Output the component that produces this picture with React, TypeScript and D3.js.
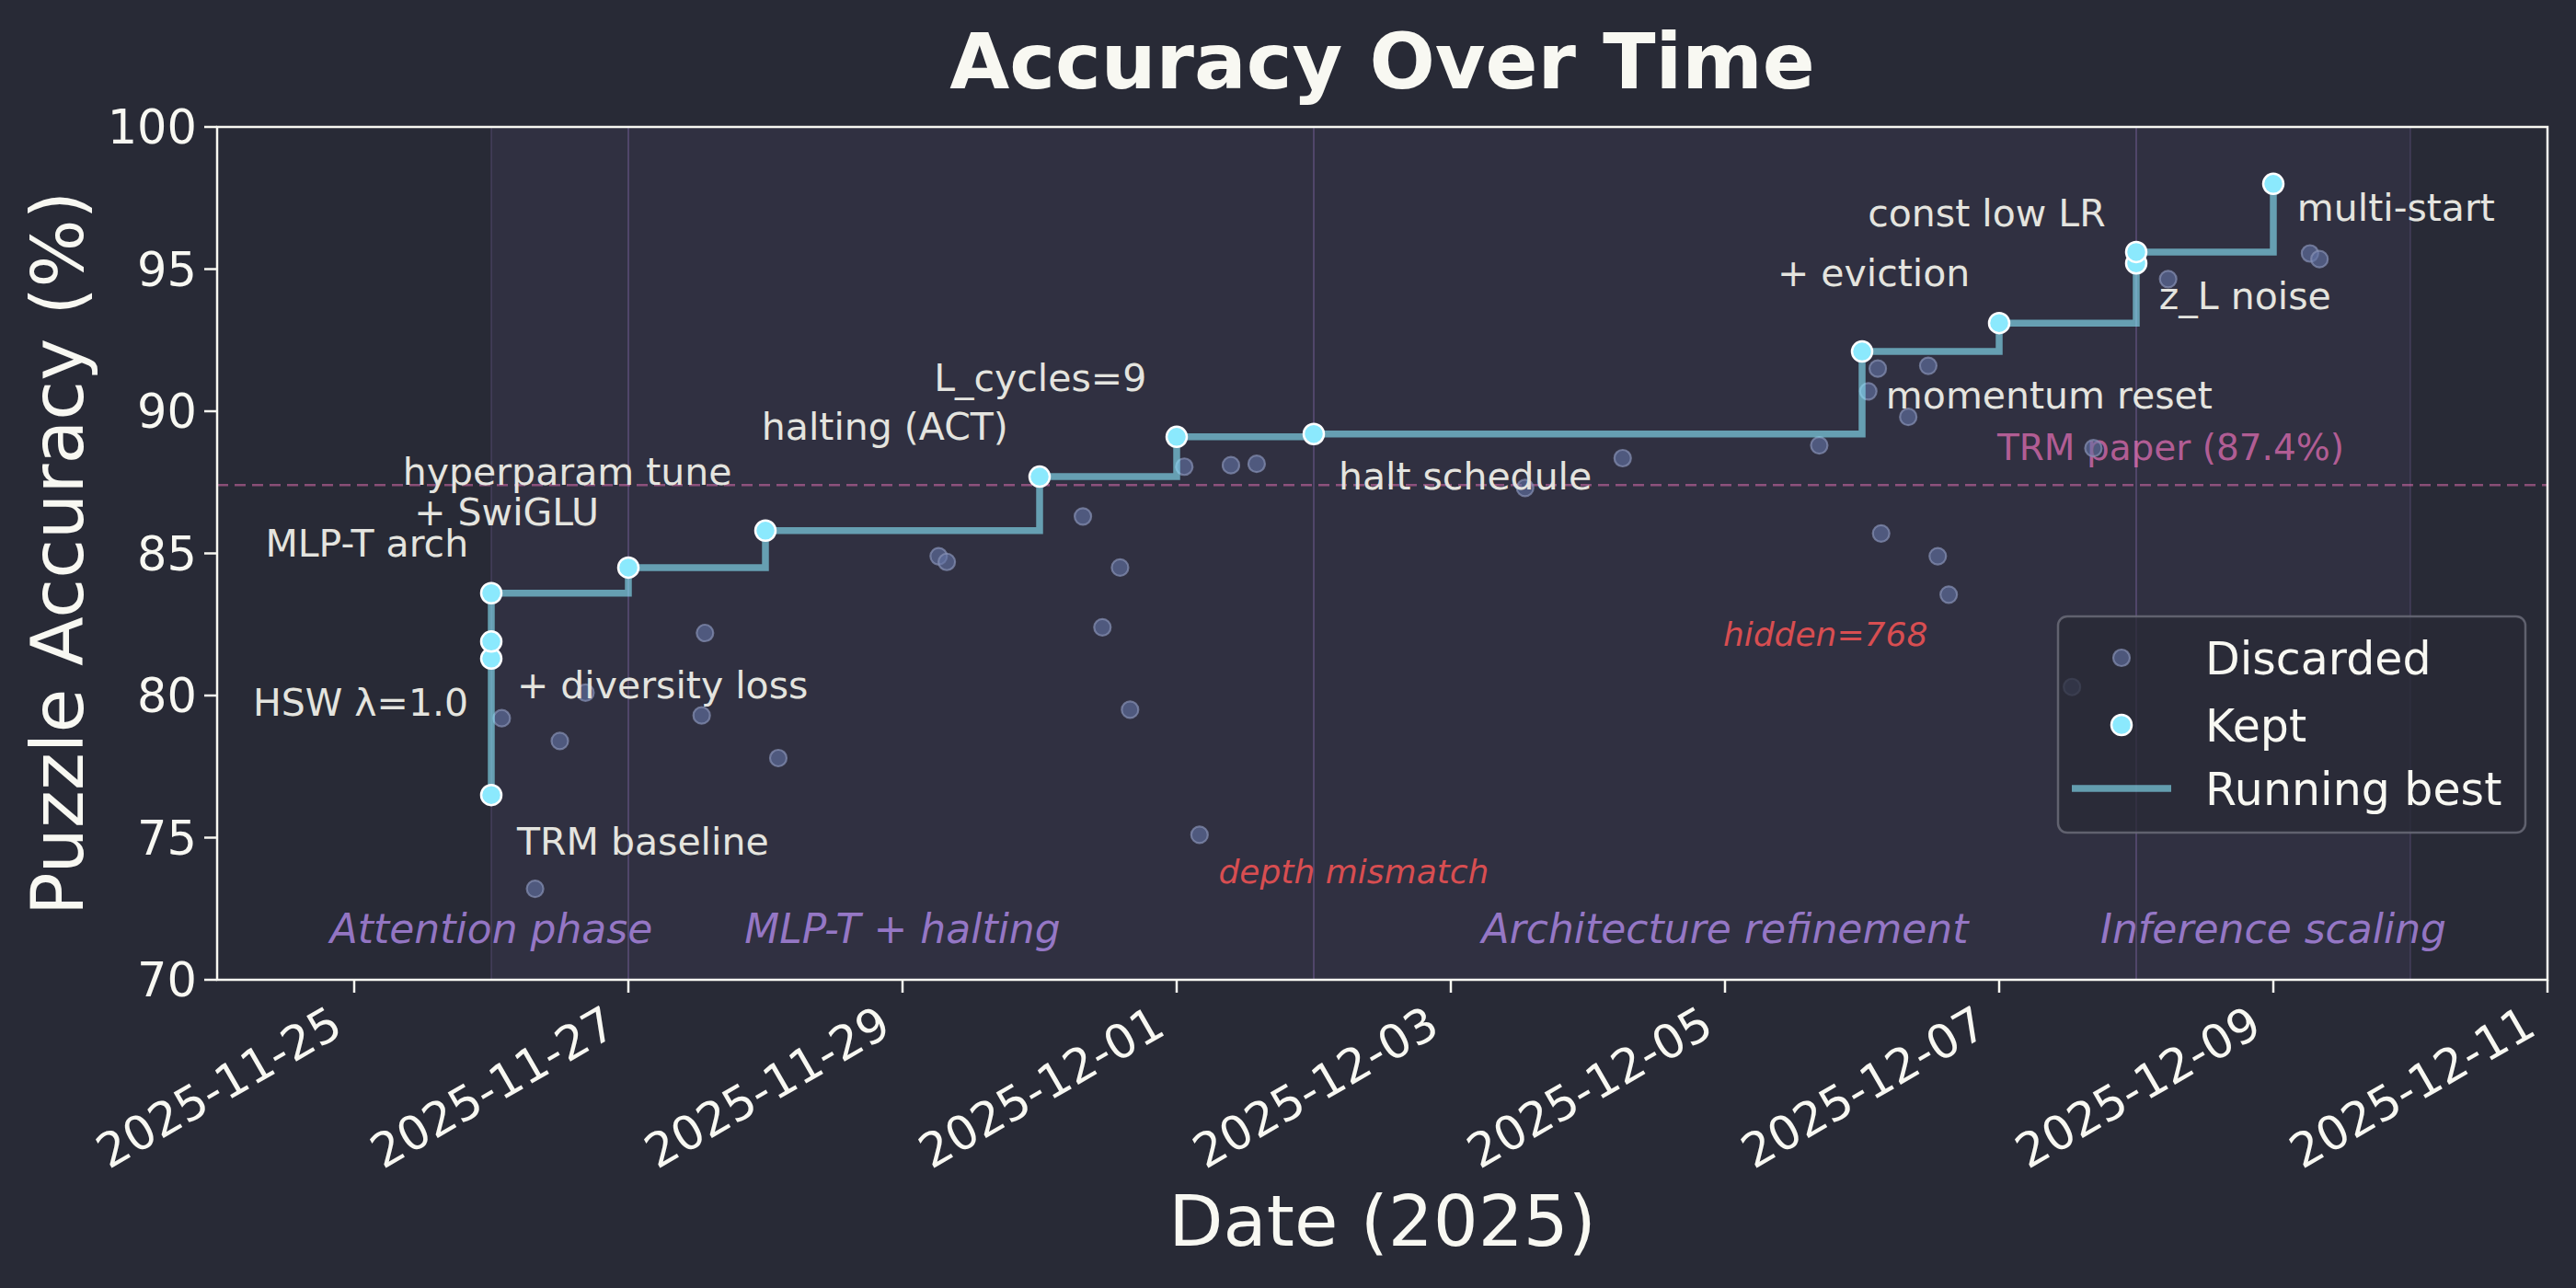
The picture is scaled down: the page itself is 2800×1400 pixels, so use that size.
import React, { useEffect, useRef } from 'react';
import * as d3 from 'd3';

// kept experiments (each one became the new best)
const keptDates = [
  '2025-11-26 00:00', '2025-11-26 00:00', '2025-11-26 00:00', '2025-11-26 00:00',
  '2025-11-27 00:00', '2025-11-28 00:00', '2025-11-30 00:00', '2025-12-01 00:00',
  '2025-12-02 00:00', '2025-12-06 00:00', '2025-12-07 00:00', '2025-12-08 00:00',
  '2025-12-08 00:00', '2025-12-09 00:00',
];
const keptAcc = [76.5, 81.3, 81.9, 83.6, 84.5, 85.8, 87.7, 89.1, 89.2, 92.1, 93.1, 95.2, 95.6, 98.0];

// discarded experiments
const discardedDates = [
  '2025-11-26 01:50', '2025-11-26 12:00', '2025-11-26 07:40', '2025-11-26 16:30',
  '2025-11-27 13:25', '2025-11-27 12:50', '2025-11-28 02:15', '2025-11-29 06:20',
  '2025-11-29 07:45', '2025-11-30 07:35', '2025-11-30 11:00', '2025-11-30 14:05',
  '2025-11-30 15:50', '2025-12-01 01:20', '2025-12-01 04:00', '2025-12-01 09:30',
  '2025-12-01 14:00', '2025-12-03 13:00', '2025-12-04 06:05', '2025-12-05 16:30',
  '2025-12-06 01:05', '2025-12-06 02:45', '2025-12-06 03:20', '2025-12-06 08:05',
  '2025-12-06 11:35', '2025-12-06 13:15', '2025-12-06 15:10', '2025-12-07 12:45',
  '2025-12-07 16:30', '2025-12-08 05:35', '2025-12-09 06:25', '2025-12-09 08:05',
];
const discardedAcc = [
  79.2, 78.4, 73.2, 80.1,
  82.2, 79.3, 77.8, 84.9,
  84.7, 86.3, 82.4, 84.5,
  79.5, 88.05, 75.1, 88.1,
  88.15, 87.3, 88.35, 88.8,
  90.7, 91.5, 85.7, 89.8,
  91.6, 84.9, 83.55, 80.3,
  88.7, 94.65, 95.55, 95.35,
];

// research phases
const phaseNames = ['Attention phase', 'MLP-T + halting', 'Architecture refinement', 'Inference scaling'];
const phaseStarts = ['2025-11-26 00:00', '2025-11-27 00:00', '2025-12-02 00:00', '2025-12-08 00:00'];
const phaseEnds = ['2025-11-27 00:00', '2025-12-02 00:00', '2025-12-08 00:00', '2025-12-10 00:00'];
const phaseLabelDates = ['2025-11-26 00:00', '2025-11-29 00:00', '2025-12-05 00:00', '2025-12-09 00:00'];
const phaseLabelY = 71.3;

// text labels next to the kept points (date, value = text baseline)
const noteTexts = [
  'TRM baseline', 'HSW λ=1.0', '+ diversity loss', 'MLP-T arch', 'hyperparam tune', '+ SwiGLU',
  'halting (ACT)', 'L_cycles=9', 'halt schedule', '+ eviction', 'momentum reset',
  'const low LR', 'z_L noise', 'multi-start',
];
const noteDates = [
  '2025-11-26 04:30', '2025-11-25 20:00', '2025-11-26 04:30', '2025-11-25 20:00', '2025-11-25 08:30', '2025-11-25 10:30',
  '2025-11-27 23:20', '2025-11-29 05:30', '2025-12-02 04:20', '2025-12-05 09:10', '2025-12-06 04:10',
  '2025-12-06 01:00', '2025-12-08 04:00', '2025-12-09 04:10',
];
const noteValues = [74.4, 79.3, 79.9, 84.9, 87.4, 86.0, 89.0, 90.7, 87.25, 94.4, 90.1, 96.5, 93.6, 96.7];
const noteAnchors = ['start', 'end', 'start', 'end', 'start', 'start', 'start', 'start', 'start', 'start', 'start', 'start', 'start', 'start'];

// failed runs called out in red
const failTexts = ['depth mismatch', 'hidden=768'];
const failDates = ['2025-12-01 07:20', '2025-12-04 23:40'];
const failValues = [73.4, 81.75];

const paperAcc = 87.4;
const paperLabel = 'TRM paper (87.4%)';
const paperLabelDate = '2025-12-06 23:40';
const paperLabelY = 88.3;

const xTickDates = ['2025-11-25', '2025-11-27', '2025-11-29', '2025-12-01', '2025-12-03', '2025-12-05', '2025-12-07', '2025-12-09', '2025-12-11'];
const yTicks = [70, 75, 80, 85, 90, 95, 100];

const legendLabels = ['Discarded', 'Kept', 'Running best'];

const W = 2800;
const H = 1400;
const FONT = '"DejaVu Sans", sans-serif';
const BG = '#282a36';
const FG = '#f8f8f2';

const App: React.FC = () => {
  const svgRef = useRef<SVGSVGElement | null>(null);

  useEffect(() => {
    document.body.style.margin = '0';
    if (!svgRef.current) return;

    const parse = d3.timeParse('%Y-%m-%d %H:%M');
    const parseDay = d3.timeParse('%Y-%m-%d');

    const svg = d3.select(svgRef.current);
    svg.selectAll('*').remove();

    const m = { left: 236, right: 31, top: 138, bottom: 335 };
    const x = d3.scaleTime()
      .domain([parseDay('2025-11-24')!, parseDay('2025-12-11')!])
      .range([m.left, W - m.right]);
    const y = d3.scaleLinear().domain([70, 100]).range([H - m.bottom, m.top]);

    svg.append('rect').attr('width', W).attr('height', H).attr('fill', BG);

    // phase spans
    phaseNames.forEach((name, i) => {
      const x0 = x(parse(phaseStarts[i])!);
      const x1 = x(parse(phaseEnds[i])!);
      svg.append('rect')
        .attr('x', x0).attr('y', m.top)
        .attr('width', x1 - x0).attr('height', y(70) - m.top)
        .attr('fill', '#bd93f9').attr('fill-opacity', 0.06);
      [x0, x1].forEach(xx => {
        svg.append('line')
          .attr('x1', xx).attr('x2', xx).attr('y1', m.top).attr('y2', y(70))
          .attr('stroke', '#bd93f9').attr('stroke-opacity', 0.12).attr('stroke-width', 2);
      });
      svg.append('text')
        .attr('x', x(parse(phaseLabelDates[i])!))
        .attr('y', y(phaseLabelY))
        .attr('text-anchor', 'middle')
        .attr('font-family', FONT).attr('font-style', 'italic').attr('font-size', 44)
        .attr('fill', '#bd93f9').attr('fill-opacity', 0.72)
        .text(name);
    });

    // paper reference line
    svg.append('line')
      .attr('x1', m.left).attr('x2', W - m.right)
      .attr('y1', y(paperAcc)).attr('y2', y(paperAcc))
      .attr('stroke', '#ff79c6').attr('stroke-opacity', 0.45)
      .attr('stroke-width', 2.5).attr('stroke-dasharray', '12,7');
    svg.append('text')
      .attr('x', x(parse(paperLabelDate)!)).attr('y', y(paperLabelY))
      .attr('font-family', FONT).attr('font-size', 39)
      .attr('fill', '#ff79c6').attr('fill-opacity', 0.65)
      .text(paperLabel);

    // discarded
    const discarded = discardedDates.map((d, i) => ({ date: parse(d)!, acc: discardedAcc[i] }));
    svg.append('g').selectAll('circle').data(discarded).enter().append('circle')
      .attr('cx', d => x(d.date)).attr('cy', d => y(d.acc)).attr('r', 9)
      .attr('fill', '#6272a4').attr('fill-opacity', 0.62)
      .attr('stroke', '#8791b5').attr('stroke-opacity', 0.7).attr('stroke-width', 2.2);

    // running best (cumulative max over kept)
    const kept = keptDates.map((d, i) => ({ date: parse(d)!, acc: keptAcc[i] }));
    let best = -Infinity;
    const running = kept.map(k => { best = Math.max(best, k.acc); return { date: k.date, acc: best }; });
    const stepLine = d3.line<{ date: Date; acc: number }>()
      .x(d => x(d.date)).y(d => y(d.acc)).curve(d3.curveStepAfter);
    svg.append('path')
      .attr('d', stepLine(running))
      .attr('fill', 'none').attr('stroke', '#8be9fd').attr('stroke-opacity', 0.6)
      .attr('stroke-width', 7.5).attr('stroke-linejoin', 'miter');

    // kept markers
    svg.append('g').selectAll('circle').data(kept).enter().append('circle')
      .attr('cx', d => x(d.date)).attr('cy', d => y(d.acc)).attr('r', 11)
      .attr('fill', '#8be9fd').attr('stroke', '#ffffff').attr('stroke-width', 2.5);

    // annotations
    noteTexts.forEach((t, i) => {
      svg.append('text')
        .attr('x', x(parse(noteDates[i])!)).attr('y', y(noteValues[i]))
        .attr('text-anchor', noteAnchors[i])
        .attr('font-family', FONT).attr('font-size', 41)
        .attr('fill', '#e4e4df')
        .text(t);
    });
    failTexts.forEach((t, i) => {
      svg.append('text')
        .attr('x', x(parse(failDates[i])!)).attr('y', y(failValues[i]))
        .attr('font-family', FONT).attr('font-style', 'italic').attr('font-size', 36)
        .attr('fill', '#ff5555').attr('fill-opacity', 0.82)
        .text(t);
    });

    // frame
    svg.append('rect')
      .attr('x', m.left).attr('y', m.top)
      .attr('width', W - m.right - m.left).attr('height', y(70) - m.top)
      .attr('fill', 'none').attr('stroke', FG).attr('stroke-width', 2.5);

    // y axis
    const yAxis = svg.append('g');
    yTicks.forEach(t => {
      yAxis.append('line')
        .attr('x1', m.left - 14).attr('x2', m.left).attr('y1', y(t)).attr('y2', y(t))
        .attr('stroke', FG).attr('stroke-width', 2.5);
      yAxis.append('text')
        .attr('x', m.left - 22).attr('y', y(t)).attr('dy', '0.36em')
        .attr('text-anchor', 'end')
        .attr('font-family', FONT).attr('font-size', 51).attr('fill', FG)
        .text(t);
    });

    // x axis
    const xAxis = svg.append('g');
    const fmt = d3.timeFormat('%Y-%m-%d');
    xTickDates.forEach(s => {
      const d = parseDay(s)!;
      const xx = x(d);
      xAxis.append('line')
        .attr('x1', xx).attr('x2', xx).attr('y1', y(70)).attr('y2', y(70) + 14)
        .attr('stroke', FG).attr('stroke-width', 2.5);
      xAxis.append('text')
        .attr('transform', `translate(${xx - 10},${y(70) + 58}) rotate(-30)`)
        .attr('text-anchor', 'end')
        .attr('font-family', FONT).attr('font-size', 51).attr('fill', FG)
        .text(fmt(d));
    });

    // axis labels and title
    svg.append('text')
      .attr('x', (m.left + W - m.right) / 2).attr('y', 1354)
      .attr('text-anchor', 'middle')
      .attr('font-family', FONT).attr('font-size', 77).attr('fill', FG)
      .text('Date (2025)');
    svg.append('text')
      .attr('transform', `translate(90,${(m.top + y(70)) / 2}) rotate(-90)`)
      .attr('text-anchor', 'middle')
      .attr('font-family', FONT).attr('font-size', 78).attr('fill', FG)
      .text('Puzzle Accuracy (%)');
    svg.append('text')
      .attr('x', (m.left + W - m.right) / 2).attr('y', 96)
      .attr('text-anchor', 'middle')
      .attr('font-family', FONT).attr('font-weight', 'bold').attr('font-size', 84).attr('fill', FG)
      .text('Accuracy Over Time');

    // legend
    const lg = svg.append('g');
    lg.append('rect')
      .attr('x', 2237).attr('y', 670).attr('width', 508).attr('height', 235).attr('rx', 10)
      .attr('fill', BG).attr('fill-opacity', 0.75)
      .attr('stroke', '#6a6b78').attr('stroke-opacity', 0.85).attr('stroke-width', 2.5);
    const rowY = [715, 788, 857];
    const markX = 2306;
    lg.append('circle').attr('cx', markX).attr('cy', rowY[0]).attr('r', 9)
      .attr('fill', '#6272a4').attr('fill-opacity', 0.62)
      .attr('stroke', '#8791b5').attr('stroke-opacity', 0.7).attr('stroke-width', 2.2);
    lg.append('circle').attr('cx', markX).attr('cy', rowY[1]).attr('r', 11)
      .attr('fill', '#8be9fd').attr('stroke', '#ffffff').attr('stroke-width', 2.5);
    lg.append('line').attr('x1', markX - 54).attr('x2', markX + 54).attr('y1', rowY[2]).attr('y2', rowY[2])
      .attr('stroke', '#8be9fd').attr('stroke-opacity', 0.6).attr('stroke-width', 7.5);
    legendLabels.forEach((l, i) => {
      lg.append('text')
        .attr('x', 2397).attr('y', rowY[i]).attr('dy', '0.36em')
        .attr('font-family', FONT).attr('font-size', 49).attr('fill', FG)
        .text(l);
    });
  }, []);

  return <svg ref={svgRef} width={W} height={H} style={{ display: 'block' }} />;
};

export default App;
